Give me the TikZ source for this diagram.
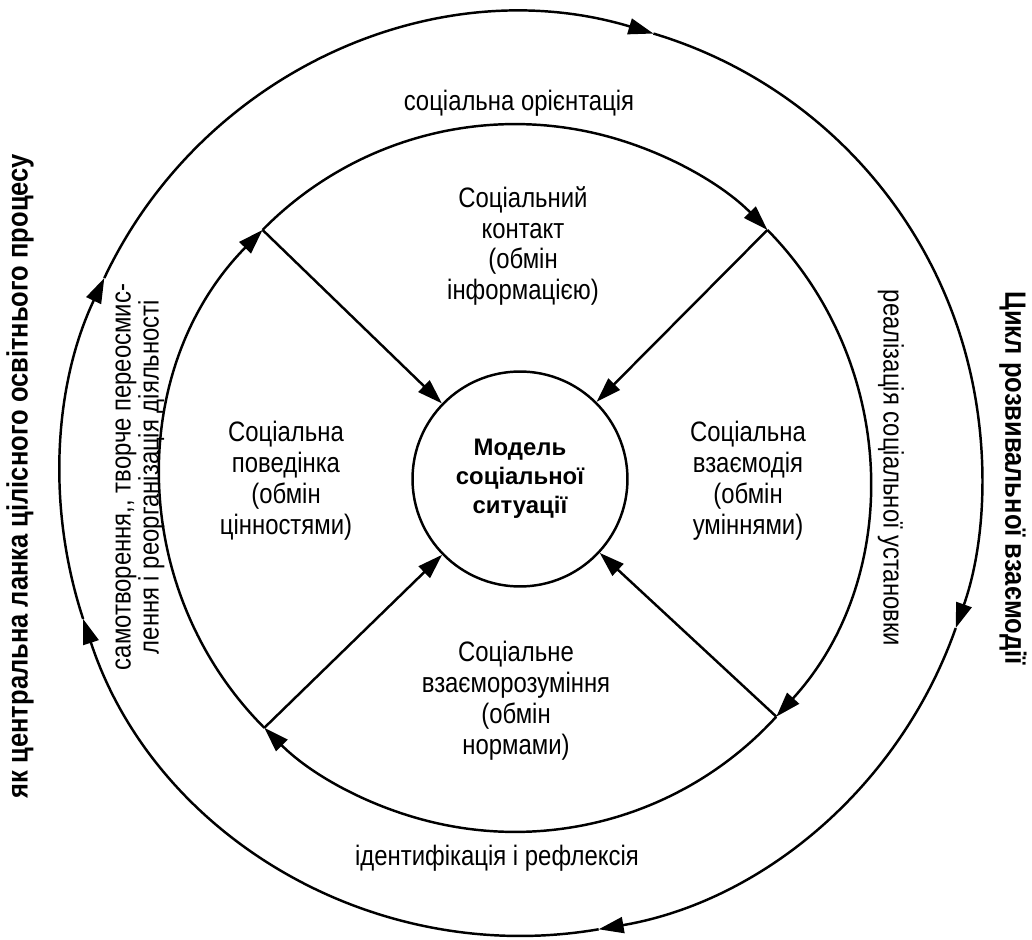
\documentclass[tikz,border=0pt]{standalone}
\usepackage{fontspec}
\setmainfont{Liberation Sans}[FakeStretch=0.85]
\newfontfamily\plainfont{Liberation Sans}
\newfontfamily\headfont{Liberation Sans Bold}[FakeStretch=0.87]
\usetikzlibrary{arrows.meta}

\begin{document}
\begin{tikzpicture}[x=0.02cm, y=0.02cm, line width=1.4pt,
        tip/.style={-{Triangle[length=0.5cm, width=0.32cm]}},
        txt/.style={font=\fontsize{16}{17.6}\selectfont, align=center},
        bold/.style={font=\headfont\fontsize{16.7}{17.6}\selectfont, align=center}]
    \useasboundingbox (-521,-465) rectangle (511,475);
    \coordinate (oc) at (0,0);
    \coordinate (mc) at (-6,-3);
    % outer cycle, clockwise
    \foreach \a/\b in {154.7/73.3, 73.3/-19.4, -19.4/-80.3, -80.3/-161.8, 198.2/154.7}
        \draw[tip] ([shift={(oc)}]\a:9.22cm) arc[start angle=\a, end angle=\b, radius=9.22cm];
    % middle cycle
    \foreach \a/\b in {135.5/44.5, 44.5/-42.4, -42.4/-135.1, 224.9/135.5}
        \draw[tip] ([shift={(mc)}]\a:7.08cm) arc[start angle=\a, end angle=\b, radius=7.08cm];
    \coordinate (jul) at ([shift={(mc)}]135.5:7.08cm);
    \coordinate (jur) at ([shift={(mc)}]44.5:7.08cm);
    \coordinate (jlr) at ([shift={(mc)}]-42.4:7.08cm);
    \coordinate (jll) at ([shift={(mc)}]224.9:7.08cm);

    \node[draw, circle, minimum size=4.3cm, inner sep=0pt, align=center,
          font=\plainfont\fontsize{13.6}{16.4}\selectfont\bfseries] (model) at (-1,-4)
        {Модель\\соціальної\\ситуації};
    \foreach \j in {jul, jur, jlr, jll}
        \draw[tip] (\j) -- (model);

    \node[txt] (orient) at (-2,372) {соціальна орієнтація};
    \node[txt] (contact) at (2,229) {Соціальний\\контакт\\(обмін\\інформацією)};
    \node[txt] (behav) at (-235,-6) {Соціальна\\поведінка\\(обмін\\цінностями)};
    \node[txt] (inter) at (227,-6) {Соціальна\\взаємодія\\(обмін\\уміннями)};
    \node[txt] (underst) at (-5,-226) {Соціальне\\взаєморозуміння\\(обмін\\нормами)};
    \node[txt] (reflex) at (-24,-383) {ідентифікація і рефлексія};
    \node[txt, rotate=-90] (realiz) at (370,7) {реалізація соціальної установки};
    \node[bold, rotate=-90] (cycle) at (492,-3) {Цикл розвивальної взаємодії};
    \node[bold, rotate=90] (link) at (-501,-1) {як центральна ланка цілісного освітнього процесу};
    \node[txt, font=\fontsize{16}{15.9}\selectfont, rotate=90] (selfc) at (-381,-2)
        {самотворення,{},  творче переосмис-\\лення і реорганізація діяльності};
\end{tikzpicture}
\end{document}
